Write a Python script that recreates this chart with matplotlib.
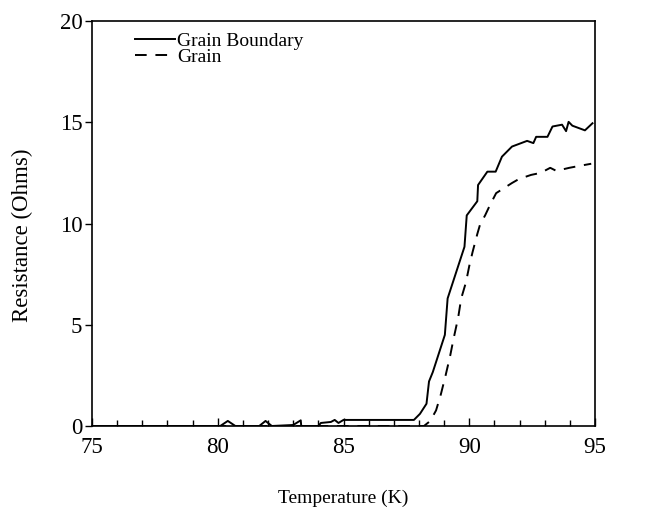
import matplotlib
matplotlib.use("Agg")
import matplotlib.pyplot as plt
from matplotlib.ticker import MultipleLocator

# Grain boundary (solid)
gb_temp = [75.0, 80.1, 80.4, 80.7, 81.65, 81.9, 82.15, 83.0, 83.3, 83.32, 84.0, 84.1, 84.5,
           84.65, 84.8, 85.0, 87.8, 88.04, 88.3, 88.4, 88.55, 89.03, 89.14, 89.81, 89.9,
           90.32, 90.35, 90.72, 91.05, 91.3, 91.7, 92.3, 92.55, 92.66, 93.11, 93.31,
           93.69, 93.85, 93.95, 94.1, 94.6, 94.9]
gb_res = [0.0, 0.0, 0.25, 0.0, 0.0, 0.25, 0.0, 0.05, 0.28, 0.0, 0.0, 0.15, 0.2,
          0.3, 0.15, 0.3, 0.3, 0.6, 1.1, 2.2, 2.66, 4.5, 6.3, 8.85, 10.4,
          11.1, 11.9, 12.56, 12.56, 13.3, 13.8, 14.08, 13.97, 14.28, 14.28, 14.79,
          14.88, 14.56, 15.02, 14.83, 14.6, 14.95]

# Grain (dashed)
g_temp = [75.0, 88.2, 88.45, 88.68, 88.87, 89.06, 89.24, 89.37, 89.56, 89.68, 89.87, 90.0,
          90.13, 90.32, 90.43, 90.63, 90.82, 91.07, 91.7, 91.98, 92.46, 92.84, 93.22,
          93.46, 93.98, 94.4, 94.85]
g_res = [0.0, 0.0, 0.25, 0.77, 1.56, 2.5, 3.46, 4.27, 5.36, 6.3, 7.1, 7.9,
         8.58, 9.48, 9.95, 10.4, 10.9, 11.5, 12.0, 12.2, 12.4, 12.5, 12.75,
         12.6, 12.75, 12.85, 12.95]

x_ticks = [75, 80, 85, 90, 95]
y_ticks = [0, 5, 10, 15, 20]

plt.rcParams['font.family'] = ['Liberation Serif', 'DejaVu Serif']

fig = plt.figure(figsize=(6.57, 5.19), dpi=100)
ax = fig.add_axes([92/657, 1 - 426/519, (595-92)/657, (426-21)/519])

ax.plot(gb_temp, gb_res, color='black', lw=1.4, label='Grain Boundary')
ax.plot(g_temp, g_res, color='black', lw=1.4, dashes=(6, 4.5), label='Grain')

ax.set_xlim(75, 95)
ax.set_ylim(0, 20)
ax.set_xticks(x_ticks)
ax.set_yticks(y_ticks)
ax.xaxis.set_minor_locator(MultipleLocator(1))
ax.tick_params(axis='x', which='major', direction='in', length=6, width=1, labelsize=16.5, pad=8)
ax.tick_params(axis='x', which='minor', direction='in', length=4, width=1)
ax.tick_params(axis='y', which='major', direction='out', length=5, width=1, labelsize=16.5, pad=2)
for s in ax.spines.values():
    s.set_linewidth(1.2)

ax.set_xlabel('Temperature (K)', fontsize=14)
ax.xaxis.set_label_coords(0.5, -0.158)
ax.set_ylabel('Resistance (Ohms)', fontsize=16.5)
ax.yaxis.set_label_coords(-0.117, 0.472)

leg = ax.legend(loc='upper left', bbox_to_anchor=(0.07, 0.992), frameon=False, fontsize=14,
                handlelength=2.05, handletextpad=0.1, labelspacing=-0.08, borderaxespad=0)

fig.savefig('out.png', dpi=100)
